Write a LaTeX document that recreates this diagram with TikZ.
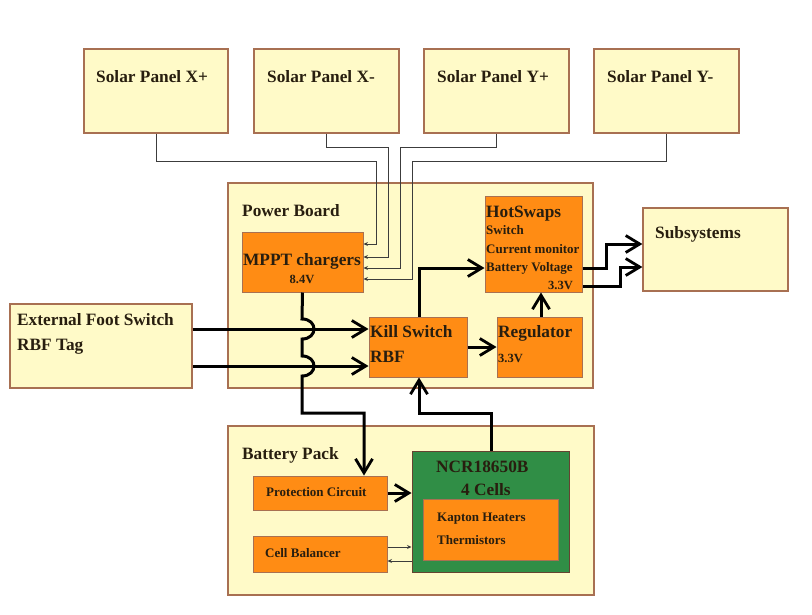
\documentclass[tikz,border=0pt]{standalone}
\usepackage{fontspec}
\setmainfont{Liberation Serif}
\usetikzlibrary{arrows.meta}
\definecolor{cream}{RGB}{255,250,200}
\definecolor{edge}{RGB}{168,112,82}
\definecolor{orng}{RGB}{255,140,20}
\definecolor{grn}{RGB}{48,142,70}
\definecolor{ink}{RGB}{40,30,15}
\definecolor{wire}{RGB}{60,60,60}
\newcommand\bx[6]{\node[#6, minimum width={#4-#2}, minimum height={#5-#3}] (#1) at ({(#2+#4)/2},{(#3+#5)/2}) {};}
\begin{document}
\begin{tikzpicture}[x=1pt,y=-1pt,
  panel/.style={draw=edge,fill=cream,line width=1.2pt,inner sep=0pt},
  blk/.style={draw=edge,fill=orng,line width=1pt,inner sep=0pt},
  cellbox/.style={draw=edge!60!black,fill=grn,line width=1pt,inner sep=0pt},
  big/.style={font=\bfseries\fontsize{17.3}{20}\selectfont,text=ink,inner sep=0pt},
  small/.style={font=\bfseries\fontsize{13}{15}\selectfont,text=ink,inner sep=0pt},
  volt/.style={font=\bfseries\fontsize{12.5}{14}\selectfont,text=ink,inner sep=0pt},
  thinarrow/.style={draw=wire,line width=1pt,-{Stealth[length=4.5pt,width=4pt]}},
  power/.style={draw=black,line width=3pt,-{Straight Barb[length=14pt,width=17pt,line width=2.8pt]}}]
\useasboundingbox[fill=white] (0,0) rectangle (812,614);

% solar panels
\bx{spxp}{84}{49}{228}{133}{panel}
\bx{spxm}{254}{49}{399}{133}{panel}
\bx{spyp}{424}{49}{569}{133}{panel}
\bx{spym}{594}{49}{739}{133}{panel}
\node[big,anchor=base west] (tspxp) at (96,82) {Solar Panel X+};
\node[big,anchor=base west] (tspxm) at (267,82) {Solar Panel X-};
\node[big,anchor=base west] (tspyp) at (437,82) {Solar Panel Y+};
\node[big,anchor=base west] (tspym) at (607,82) {Solar Panel Y-};

% power board
\bx{pb}{228}{183}{593}{388}{panel}
\node[big,anchor=base west] (tpb) at (242,216) {Power Board};
\bx{mppt}{242}{232}{363}{292}{blk}
\node[big,anchor=base] (tmppt) at (302,265) {MPPT chargers};
\node[volt,anchor=base] (tmpptv) at (302,283) {8.4V};
\bx{hs}{485}{196}{582}{292}{blk}
\node[big,anchor=base west] (ths) at (486,217) {HotSwaps};
\node[small,anchor=base west] (ths1) at (486,234) {Switch};
\node[small,anchor=base west] (ths2) at (486,253) {Current monitor};
\node[small,anchor=base west] (ths3) at (486,271) {Battery Voltage};
\node[volt,anchor=base east] (ths4) at (573,289) {3.3V};
\bx{kill}{369}{317}{467}{377}{blk}
\node[big,anchor=base west] (tkill) at (370,337) {Kill Switch};
\node[big,anchor=base west] (tkill2) at (370,362) {RBF};
\bx{reg}{497}{317}{582}{377}{blk}
\node[big,anchor=base west] (treg) at (498,337) {Regulator};
\node[volt,anchor=base west] (treg2) at (498,362) {3.3V};

% subsystems
\bx{sub}{643}{208}{788}{291}{panel}
\node[big,anchor=base west] (tsub) at (655,238) {Subsystems};

% external
\bx{ext}{10}{304}{192}{388}{panel}
\node[big,anchor=base west] (text1) at (17,325) {External Foot Switch};
\node[big,anchor=base west] (text2) at (17,350) {RBF Tag};

% battery pack
\bx{bp}{228}{426}{594}{595}{panel}
\node[big,anchor=base west] (tbp) at (242,459) {Battery Pack};
\bx{prot}{253}{476}{387}{510}{blk}
\node[small,anchor=base west] (tprot) at (266,496) {Protection Circuit};
\bx{cb}{253}{536}{387}{572}{blk}
\node[small,anchor=base west] (tcb) at (265,557) {Cell Balancer};
\bx{ncr}{412}{451}{569}{572}{cellbox}
\node[big,anchor=base west] (tncr) at (436,472) {NCR18650B};
\node[big,anchor=base west] (tncr2) at (461,495) {4 Cells};
\bx{kap}{423}{499}{558}{560}{blk}
\node[small,anchor=base west] (tkap) at (437,521) {Kapton Heaters};
\node[small,anchor=base west] (tkap2) at (437,544) {Thermistors};

% solar wiring
\coordinate (w1) at (0,244);
\coordinate (w2) at (0,257);
\coordinate (w3) at (0,268);
\coordinate (w4) at (0,279);
\draw[thinarrow] (spxp.south) |- (376,161) -- (376,244) -- (mppt.east |- w1);
\draw[thinarrow] (spxm.south) |- (388,147) -- (388,257) -- (mppt.east |- w2);
\draw[thinarrow] (spyp.south) |- (400,147) -- (400,268) -- (mppt.east |- w3);
\draw[thinarrow] (spym.south) |- (412,161) -- (412,279) -- (mppt.east |- w4);

% external to kill switch
\coordinate (e1) at (0,329);
\coordinate (e2) at (0,366);
\draw[power] (ext.east |- e1) -- (kill.west |- e1);
\draw[power] (ext.east |- e2) -- (kill.west |- e2);

% MPPT to protection circuit, hopping over
\coordinate (px) at (364,0);
\draw[power] (mppt.south) -- (302,319)
  .. controls (318,319) and (318,339) .. (302,339) -- (302,356)
  .. controls (318,356) and (318,376) .. (302,376) -- (302,413) -- (364,413) -- (prot.north -| px);

% kill switch to hotswaps
\coordinate (kx) at (419,0);
\coordinate (hy) at (0,268);
\draw[power] (kill.north -| kx) |- (hs.west |- hy);
% kill switch to regulator
\coordinate (ry) at (0,347);
\draw[power] (kill.east |- ry) -- (reg.west |- ry);
% regulator to hotswaps
\coordinate (rx) at (541,0);
\draw[power] (reg.north -| rx) -- (hs.south -| rx);
% NCR to kill switch
\coordinate (nx) at (491,0);
\draw[power] (ncr.north -| nx) -- (491,413) -- (419,413) -- (kill.south -| kx);
% protection to NCR
\coordinate (py) at (0,493);
\draw[power] (prot.east |- py) -- (ncr.west |- py);
% cell balancer <-> NCR
\coordinate (c1) at (0,547);
\coordinate (c2) at (0,561);
\draw[thinarrow] (cb.east |- c1) -- (ncr.west |- c1);
\draw[thinarrow] (ncr.west |- c2) -- (cb.east |- c2);
% hotswaps to subsystems
\coordinate (s1) at (0,244);
\coordinate (s2) at (0,267);
\coordinate (s3) at (0,286);
\coordinate (s0) at (0,268);
\draw[power] (hs.east |- s0) -- (606,268) -- (606,244) -- (sub.west |- s1);
\draw[power] (hs.east |- s3) -- (620,286) -- (620,267) -- (sub.west |- s2);
\end{tikzpicture}
\end{document}
